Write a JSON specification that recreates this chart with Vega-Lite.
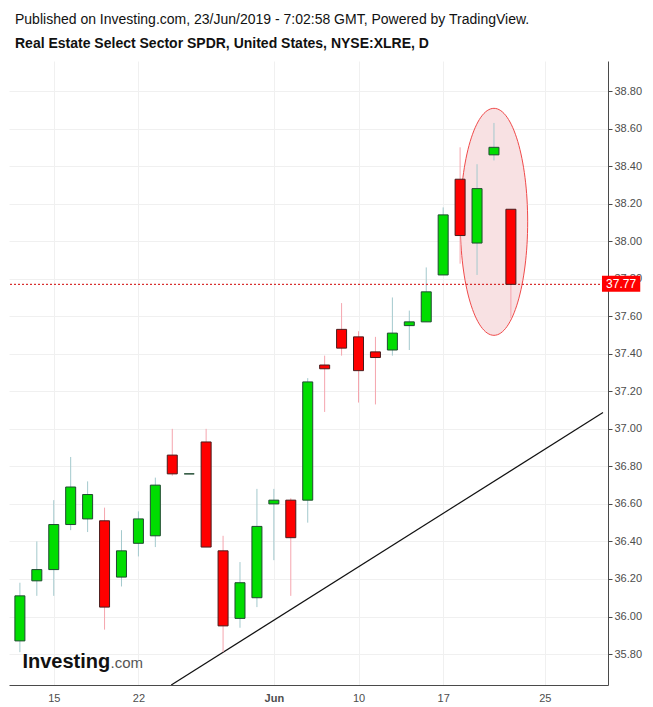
{
  "$schema": "https://vega.github.io/schema/vega-lite/v6.json",
  "width": 599,
  "height": 624,
  "autosize": {"type": "none"},
  "padding": {"left": 9, "top": 61, "right": 45, "bottom": 22},
  "background": "white",
  "config": {"view": {"stroke": null}, "font": "Liberation Sans"},
  "title": {
    "text": "Published on Investing.com, 23/Jun/2019 - 7:02:58 GMT, Powered by TradingView.",
    "subtitle": "Real Estate Select Sector SPDR, United States, NYSE:XLRE, D",
    "anchor": "start",
    "frame": "group",
    "orient": "top",
    "offset": 10,
    "dx": 6,
    "font": "Liberation Sans",
    "fontSize": 14,
    "fontWeight": "normal",
    "color": "#111",
    "subtitleFont": "Liberation Sans",
    "subtitleFontSize": 14,
    "subtitleFontWeight": "bold",
    "subtitleColor": "#111",
    "subtitlePadding": 10
  },
  "datasets": {
    "ohlc": [
      {"i": 0, "d": "2019-05-13", "o": 35.87, "h": 36.18, "l": 35.81, "c": 36.11},
      {"i": 1, "d": "2019-05-14", "o": 36.19, "h": 36.40, "l": 36.11, "c": 36.25},
      {"i": 2, "d": "2019-05-15", "o": 36.25, "h": 36.62, "l": 36.11, "c": 36.49},
      {"i": 3, "d": "2019-05-16", "o": 36.49, "h": 36.85, "l": 36.46, "c": 36.69},
      {"i": 4, "d": "2019-05-17", "o": 36.52, "h": 36.72, "l": 36.45, "c": 36.65},
      {"i": 5, "d": "2019-05-20", "o": 36.51, "h": 36.58, "l": 35.93, "c": 36.05},
      {"i": 6, "d": "2019-05-21", "o": 36.21, "h": 36.46, "l": 36.16, "c": 36.35},
      {"i": 7, "d": "2019-05-22", "o": 36.39, "h": 36.56, "l": 36.32, "c": 36.52},
      {"i": 8, "d": "2019-05-23", "o": 36.43, "h": 36.74, "l": 36.37, "c": 36.70},
      {"i": 9, "d": "2019-05-24", "o": 36.86, "h": 37.00, "l": 36.75, "c": 36.76},
      {"i": 10, "d": "2019-05-27", "o": 36.76, "h": 36.76, "l": 36.76, "c": 36.76},
      {"i": 11, "d": "2019-05-28", "o": 36.93, "h": 37.00, "l": 36.37, "c": 36.37},
      {"i": 12, "d": "2019-05-29", "o": 36.35, "h": 36.43, "l": 35.81, "c": 35.95},
      {"i": 13, "d": "2019-05-30", "o": 35.99, "h": 36.29, "l": 35.94, "c": 36.18},
      {"i": 14, "d": "2019-05-31", "o": 36.10, "h": 36.68, "l": 36.05, "c": 36.48},
      {"i": 15, "d": "2019-06-03", "o": 36.60, "h": 36.68, "l": 36.30, "c": 36.62},
      {"i": 16, "d": "2019-06-04", "o": 36.62, "h": 36.63, "l": 36.11, "c": 36.42},
      {"i": 17, "d": "2019-06-05", "o": 36.62, "h": 37.27, "l": 36.50, "c": 37.25},
      {"i": 18, "d": "2019-06-06", "o": 37.34, "h": 37.39, "l": 37.09, "c": 37.32},
      {"i": 19, "d": "2019-06-07", "o": 37.53, "h": 37.67, "l": 37.39, "c": 37.43},
      {"i": 20, "d": "2019-06-10", "o": 37.49, "h": 37.52, "l": 37.14, "c": 37.31},
      {"i": 21, "d": "2019-06-11", "o": 37.41, "h": 37.49, "l": 37.13, "c": 37.38},
      {"i": 22, "d": "2019-06-12", "o": 37.42, "h": 37.70, "l": 37.39, "c": 37.51},
      {"i": 23, "d": "2019-06-13", "o": 37.55, "h": 37.63, "l": 37.42, "c": 37.57},
      {"i": 24, "d": "2019-06-14", "o": 37.57, "h": 37.86, "l": 37.57, "c": 37.73},
      {"i": 25, "d": "2019-06-17", "o": 37.82, "h": 38.18, "l": 37.82, "c": 38.14},
      {"i": 26, "d": "2019-06-18", "o": 38.33, "h": 38.50, "l": 37.88, "c": 38.03},
      {"i": 27, "d": "2019-06-19", "o": 37.99, "h": 38.41, "l": 37.82, "c": 38.28},
      {"i": 28, "d": "2019-06-20", "o": 38.46, "h": 38.63, "l": 38.43, "c": 38.50},
      {"i": 29, "d": "2019-06-21", "o": 38.17, "h": 38.17, "l": 37.59, "c": 37.77}
    ],
    "trend": [
      {"i": 8.94, "v": 35.635},
      {"i": 34.44, "v": 37.087}
    ],
    "last": [
      {"i0": 34.38, "i1": 36.64, "v0": 37.731, "v1": 37.816, "v": 37.77, "im": 35.51, "label": "37.77"}
    ]
  },
  "layer": [
    {
      "data": {"values": [{"i": 28, "v": 38.103}]},
      "mark": {
        "type": "point",
        "shape": "M0,-1 C0.164,-1 0.297,-0.552 0.297,0 C0.297,0.552 0.164,1 0,1 C-0.164,1 -0.297,0.552 -0.297,0 C-0.297,-0.552 -0.164,-1 0,-1 Z",
        "size": 51529,
        "filled": true,
        "fill": "#f8e1e3",
        "stroke": "#f04a4a",
        "strokeWidth": 1,
        "opacity": 1,
        "fillOpacity": 1,
        "strokeOpacity": 1
      },
      "encoding": {
        "x": {"field": "i", "type": "quantitative", "title": null, "scale": {"domain": [-0.348, 34.44], "nice": false, "zero": false},
          "axis": {
            "orient": "bottom",
            "values": [2, 7, 15, 20, 25, 31],
            "labelExpr": "datum.value == 2 ? '15' : datum.value == 7 ? '22' : datum.value == 15 ? 'Jun' : datum.value == 20 ? '10' : datum.value == 25 ? '17' : '25'",
            "ticks": false,
            "domainColor": "#4a4a4a",
            "domainWidth": 1,
            "grid": true,
            "gridColor": "#f0f0f0",
            "gridWidth": 1,
            "labelFont": "Liberation Sans",
            "labelFontSize": 11,
            "labelColor": "#4d4d4d",
            "labelPadding": 7,
            "labelFontWeight": {"condition": {"test": "datum.value == 15", "value": "bold"}, "value": "normal"}
          }},
        "y": {"field": "v", "type": "quantitative", "title": null, "scale": {"domain": [35.635, 38.96], "nice": false, "zero": false},
          "axis": {
            "orient": "right",
            "values": [35.8, 36.0, 36.2, 36.4, 36.6, 36.8, 37.0, 37.2, 37.4, 37.6, 37.8, 38.0, 38.2, 38.4, 38.6, 38.8],
            "format": ".2f",
            "tickSize": 4,
            "tickColor": "#4a4a4a",
            "domainColor": "#4a4a4a",
            "domainWidth": 1,
            "grid": true,
            "gridColor": "#f0f0f0",
            "gridWidth": 1,
            "labelFont": "Liberation Sans",
            "labelFontSize": 11,
            "labelColor": "#4d4d4d",
            "labelPadding": 2
          }}
      }
    },
    {
      "data": {"name": "trend"},
      "mark": {"type": "line", "color": "#111", "strokeWidth": 1.2, "clip": true},
      "encoding": {
        "x": {"field": "i", "type": "quantitative", "title": null},
        "y": {"field": "v", "type": "quantitative", "title": null}
      }
    },
    {
      "data": {"name": "ohlc"},
      "mark": {"type": "rule", "strokeWidth": 1},
      "encoding": {
        "x": {"field": "i", "type": "quantitative", "title": null},
        "y": {"field": "l", "type": "quantitative", "title": null},
        "y2": {"field": "h"},
        "color": {"condition": {"test": "datum.c >= datum.o", "value": "#a3c9cd"}, "value": "#f5a5ae"}
      }
    },
    {
      "data": {"name": "last"},
      "mark": {"type": "rule", "strokeDash": [2, 2], "strokeWidth": 1, "color": "#d00000"},
      "encoding": {
        "y": {"field": "v", "type": "quantitative", "title": null}
      }
    },
    {
      "data": {"name": "ohlc"},
      "mark": {"type": "bar", "size": 10, "strokeWidth": 1},
      "encoding": {
        "x": {"field": "i", "type": "quantitative", "title": null},
        "y": {"field": "o", "type": "quantitative", "title": null},
        "y2": {"field": "c"},
        "fill": {"condition": {"test": "datum.c >= datum.o", "value": "#00dd00"}, "value": "#ff0000"},
        "stroke": {"condition": {"test": "datum.c >= datum.o", "value": "#1f4a30"}, "value": "#4a1c1c"}
      }
    },
    {
      "data": {"name": "last"},
      "mark": {"type": "rect", "color": "#ff0000"},
      "encoding": {
        "x": {"field": "i0", "type": "quantitative", "title": null},
        "x2": {"field": "i1"},
        "y": {"field": "v0", "type": "quantitative", "title": null},
        "y2": {"field": "v1"}
      }
    },
    {
      "data": {"name": "last"},
      "mark": {"type": "text", "color": "#ffffff", "fontSize": 12, "font": "Liberation Sans", "align": "center", "baseline": "middle"},
      "encoding": {
        "x": {"field": "im", "type": "quantitative", "title": null},
        "y": {"field": "v", "type": "quantitative", "title": null},
        "text": {"field": "label"}
      }
    },
    {
      "data": {"values": [{"t": "Investing", "i": 0.15, "v": 35.726}]},
      "mark": {"type": "text", "color": "#111", "fontSize": 20, "fontWeight": "bold", "font": "Liberation Sans", "align": "left", "baseline": "alphabetic"},
      "encoding": {
        "x": {"field": "i", "type": "quantitative", "title": null},
        "y": {"field": "v", "type": "quantitative", "title": null},
        "text": {"field": "t"}
      }
    },
    {
      "data": {"values": [{"t": ".com", "i": 5.35, "v": 35.726}]},
      "mark": {"type": "text", "color": "#555", "fontSize": 15, "font": "Liberation Sans", "align": "left", "baseline": "alphabetic"},
      "encoding": {
        "x": {"field": "i", "type": "quantitative", "title": null},
        "y": {"field": "v", "type": "quantitative", "title": null},
        "text": {"field": "t"}
      }
    }
  ]
}
